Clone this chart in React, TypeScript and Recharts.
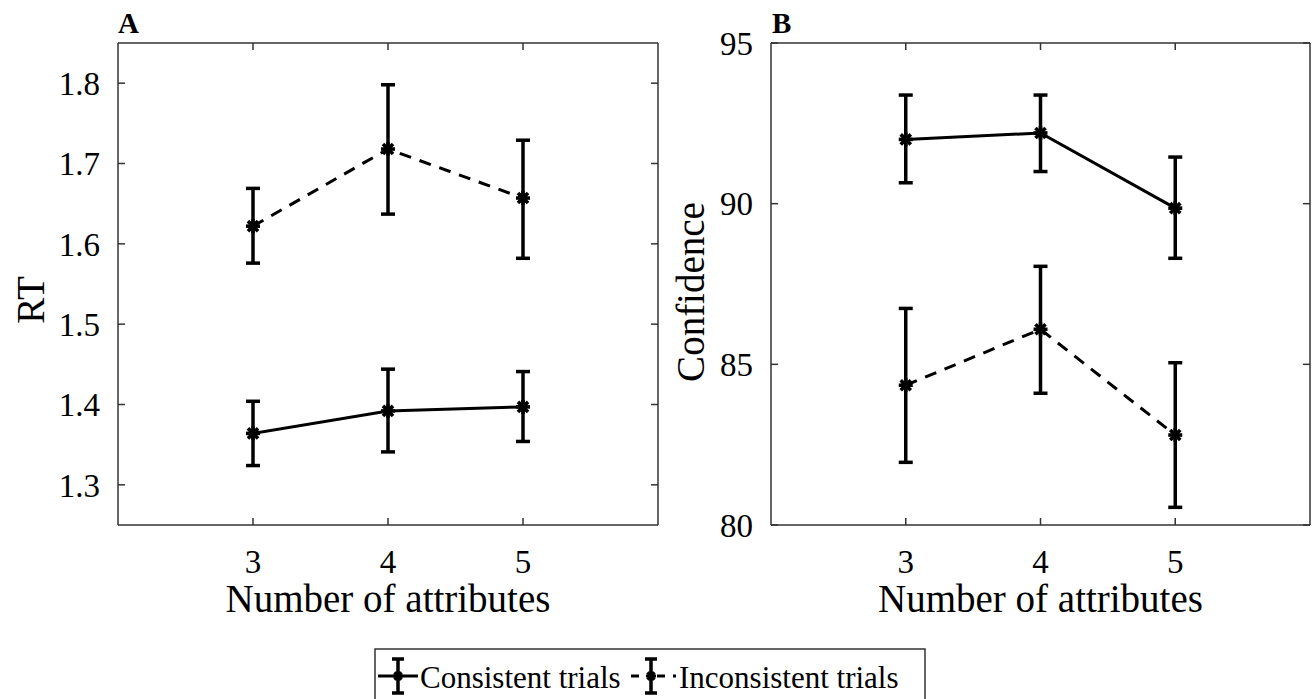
import { LineChart, Line, XAxis, YAxis, ErrorBar, Label } from "recharts"

const attributes = [3, 4, 5]
const xTicks = [3, 4, 5]

// Panel A: response time
const rtConsistent = [1.364, 1.392, 1.397]
const rtConsistentLow = [1.324, 1.341, 1.354]
const rtConsistentHigh = [1.404, 1.444, 1.441]
const rtInconsistent = [1.622, 1.718, 1.657]
const rtInconsistentLow = [1.576, 1.637, 1.582]
const rtInconsistentHigh = [1.669, 1.798, 1.729]
const rtTicks = [1.3, 1.4, 1.5, 1.6, 1.7, 1.8]

// Panel B: confidence
const confConsistent = [92.0, 92.2, 89.86]
const confConsistentLow = [90.65, 91.0, 88.3]
const confConsistentHigh = [93.38, 93.38, 91.45]
const confInconsistent = [84.35, 86.09, 82.8]
const confInconsistentLow = [81.95, 84.1, 80.55]
const confInconsistentHigh = [86.74, 88.05, 85.05]
const confTicks = [80, 85, 90, 95]

const FONT = "'Liberation Serif', 'Times New Roman', serif"
const AXIS = "#333"

function buildRows(
  c: number[], cLo: number[], cHi: number[],
  inc: number[], iLo: number[], iHi: number[]
) {
  return attributes.map((n, k) => ({
    n,
    consistent: c[k],
    consistentErr: [c[k] - cLo[k], cHi[k] - c[k]],
    inconsistent: inc[k],
    inconsistentErr: [inc[k] - iLo[k], iHi[k] - inc[k]],
  }))
}

const rtRows = buildRows(rtConsistent, rtConsistentLow, rtConsistentHigh, rtInconsistent, rtInconsistentLow, rtInconsistentHigh)
const confRows = buildRows(confConsistent, confConsistentLow, confConsistentHigh, confInconsistent, confInconsistentLow, confInconsistentHigh)

// MATLAB style "*" marker, drawn heavy
function Star({ cx, cy, r = 7, w = 3.6 }: { cx: number; cy: number; r?: number; w?: number }) {
  const d = r * 0.72
  return (
    <g stroke="#000" strokeWidth={w} strokeLinecap="butt">
      <line x1={cx - r} y1={cy} x2={cx + r} y2={cy} />
      <line x1={cx} y1={cy - r} x2={cx} y2={cy + r} />
      <line x1={cx - d} y1={cy - d} x2={cx + d} y2={cy + d} />
      <line x1={cx - d} y1={cy + d} x2={cx + d} y2={cy - d} />
    </g>
  )
}

const renderStar = (props: any) => <Star key={`s-${props.index}`} cx={props.cx} cy={props.cy} />

const tickStyle = { fill: "#000", fontSize: 33, fontFamily: FONT }

interface PanelProps {
  rows: ReturnType<typeof buildRows>
  width: number
  rightMargin: number
  domain: [number, number]
  ticks: number[]
  fmt: (v: number) => string
  yTitle: string
  yTitleX: number
  yTitleY: number
}

function Panel({ rows, width, rightMargin, domain, ticks, fmt, yTitle, yTitleX, yTitleY }: PanelProps) {
  const lineStyle = { stroke: AXIS, strokeWidth: 1.5 }
  return (
    <LineChart width={width} height={640} data={rows} margin={{ top: 42, right: rightMargin, left: 0, bottom: 0 }}>
      <XAxis
        xAxisId="b"
        dataKey="n"
        type="number"
        domain={[2, 6]}
        ticks={xTicks}
        allowDataOverflow
        height={115}
        axisLine={lineStyle}
        tickLine={lineStyle}
        tickSize={-7}
        tickMargin={32}
        tick={tickStyle}
      >
        <Label
          value="Number of attributes"
          position="insideBottom"
          offset={28}
          style={{ fill: "#000", fontSize: 39, fontFamily: FONT }}
        />
      </XAxis>
      <XAxis
        xAxisId="t"
        orientation="top"
        dataKey="n"
        type="number"
        domain={[2, 6]}
        ticks={xTicks}
        allowDataOverflow
        height={1}
        axisLine={lineStyle}
        tickLine={lineStyle}
        tickSize={-7}
        tickFormatter={() => ""}
      />
      <YAxis
        yAxisId="l"
        type="number"
        domain={domain}
        ticks={ticks}
        allowDataOverflow
        width={118}
        axisLine={lineStyle}
        tickLine={lineStyle}
        tickSize={-7}
        tickMargin={25}
        tick={tickStyle}
        tickFormatter={fmt}
      >
        <Label
          content={() => (
            <text
              x={yTitleX}
              y={yTitleY}
              transform={`rotate(-90 ${yTitleX} ${yTitleY})`}
              textAnchor="middle"
              dominantBaseline="central"
              fill="#000"
              fontSize={39}
              fontFamily={FONT}
            >
              {yTitle}
            </text>
          )}
        />
      </YAxis>
      <YAxis
        yAxisId="r"
        orientation="right"
        type="number"
        domain={domain}
        ticks={ticks}
        allowDataOverflow
        width={1}
        axisLine={lineStyle}
        tickLine={lineStyle}
        tickSize={-7}
        tickFormatter={() => ""}
      />
      <Line
        xAxisId="b"
        yAxisId="l"
        dataKey="inconsistent"
        type="linear"
        stroke="#000"
        strokeWidth={3}
        strokeDasharray="12 9"
        dot={renderStar}
        activeDot={false}
        isAnimationActive={false}
      >
        <ErrorBar dataKey="inconsistentErr" width={7} strokeWidth={3.5} stroke="#000" direction="y" isAnimationActive={false} />
      </Line>
      <Line
        xAxisId="b"
        yAxisId="l"
        dataKey="consistent"
        type="linear"
        stroke="#000"
        strokeWidth={3}
        dot={renderStar}
        activeDot={false}
        isAnimationActive={false}
      >
        <ErrorBar dataKey="consistentErr" width={7} strokeWidth={3.5} stroke="#000" direction="y" isAnimationActive={false} />
      </Line>
    </LineChart>
  )
}

function LegendKey({ x, y, dashed }: { x: number; y: number; dashed: boolean }) {
  return (
    <g stroke="#000">
      {dashed ? (
        <>
          <line x1={x - 20} y1={y} x2={x - 12} y2={y} strokeWidth={3} />
          <line x1={x + 6} y1={y} x2={x + 14} y2={y} strokeWidth={3} />
          <line x1={x + 22} y1={y} x2={x + 25} y2={y} strokeWidth={3} />
        </>
      ) : (
        <line x1={x - 20} y1={y} x2={x + 20} y2={y} strokeWidth={3} />
      )}
      <line x1={x} y1={y - 17} x2={x} y2={y + 17} strokeWidth={3.5} />
      <line x1={x - 6} y1={y - 17} x2={x + 6} y2={y - 17} strokeWidth={3.5} />
      <line x1={x - 6} y1={y + 17} x2={x + 6} y2={y + 17} strokeWidth={3.5} />
      <Star cx={x} cy={y} r={5} w={3} />
    </g>
  )
}

export default function App() {
  const letter = { position: "absolute" as const, top: 7, fontFamily: FONT, fontWeight: 700, fontSize: 29, lineHeight: "32px" }
  return (
    <div style={{ position: "absolute", left: 0, top: 0, width: 1314, height: 699, background: "#fff", overflow: "hidden" }}>
      <div style={{ position: "absolute", left: 0, top: 0 }}>
        <Panel
          rows={rtRows}
          width={700}
          rightMargin={41}
          domain={[1.25, 1.85]}
          ticks={rtTicks}
          fmt={(v) => v.toFixed(1)}
          yTitle="RT"
          yTitleX={30}
          yTitleY={300}
        />
      </div>
      <div style={{ position: "absolute", left: 653, top: 0 }}>
        <Panel
          rows={confRows}
          width={661}
          rightMargin={3}
          domain={[80, 95]}
          ticks={confTicks}
          fmt={(v) => String(v)}
          yTitle="Confidence"
          yTitleX={37}
          yTitleY={292}
        />
      </div>
      <div style={{ ...letter, left: 118 }}>A</div>
      <div style={{ ...letter, left: 772 }}>B</div>
      <svg width={1314} height={699} style={{ position: "absolute", left: 0, top: 0, pointerEvents: "none" }}>
        <rect x={375} y={649} width={550} height={80} fill="none" stroke={AXIS} strokeWidth={1.5} />
        <LegendKey x={398} y={676} dashed={false} />
        <text x={420} y={688} fontSize={31} fontFamily={FONT} fill="#000">Consistent trials</text>
        <LegendKey x={651} y={676} dashed={true} />
        <text x={679} y={688} fontSize={31} fontFamily={FONT} fill="#000">Inconsistent trials</text>
      </svg>
    </div>
  )
}
